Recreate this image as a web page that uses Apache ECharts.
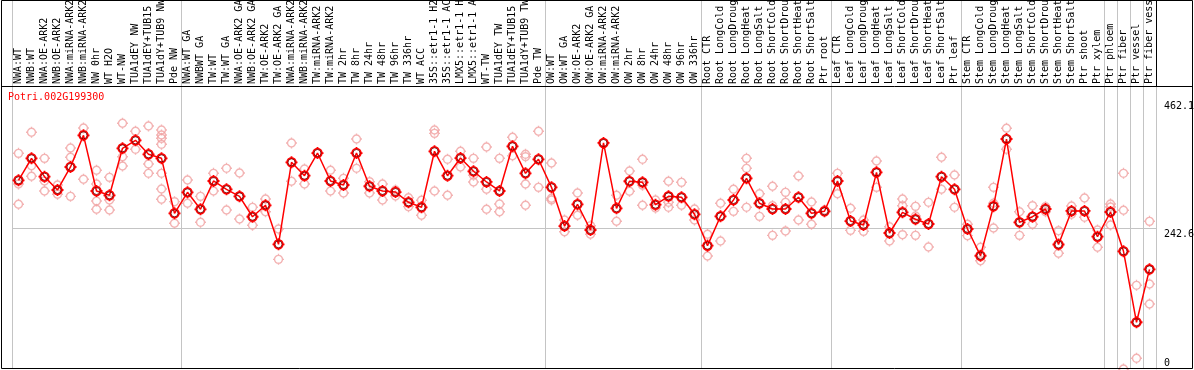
<!DOCTYPE html>
<html>
<head>
<meta charset="utf-8">
<script src="https://cdn.jsdelivr.net/npm/echarts@6/dist/echarts.min.js"></script>
<style>html,body{margin:0;padding:0;background:#fff;}#c{width:1194px;height:370px;}</style>
</head>
<body>
<div id="c"></div>
<script>
const categories = [
  "NWA:WT","NWB:WT","NWA:OE-ARK2","NWB:OE-ARK2","NWA:miRNA-ARK2","NWB:miRNA-ARK2","NW 0hr","WT H2O","WT-NW","TUA1dEY NW",
  "TUA1dEY+TUB15","TUA1dY+TUB9 NW","Pde NW","NWA:WT GA","NWBWT GA","TW:WT","TW:WT GA","NWA:OE-ARK2 GA","NWB:OE-ARK2 GA","TW:OE-ARK2",
  "TW:OE-ARK2 GA","NWA:miRNA-ARK2","NWB:miRNA-ARK2","TW:miRNA-ARK2","TW:miRNA-ARK2","TW 2hr","TW 8hr","TW 24hr","TW 48hr","TW 96hr",
  "TW 336hr","WT ACC","35S::etr1-1 H2","35S::etr1-1 AC","LMX5::etr1-1 H","LMX5::etr1-1 A","WT-TW","TUA1dEY TW","TUA1dEY+TUB15","TUA1dY+TUB9 TW",
  "Pde TW","OW:WT","OW:WT GA","OW:OE-ARK2","OW:OE-ARK2 GA","OW:miRNA-ARK2","OW:miRNA-ARK2","OW 2hr","OW 8hr","OW 24hr",
  "OW 48hr","OW 96hr","OW 336hr","Root CTR","Root LongCold","Root LongDroug","Root LongHeat","Root LongSalt","Root ShortCold","Root ShortDrou",
  "Root ShortHeat","Root ShortSalt","Ptr root","Leaf CTR","Leaf LongCold","Leaf LongDroug","Leaf LongHeat","Leaf LongSalt","Leaf ShortCold","Leaf ShortDrou",
  "Leaf ShortHeat","Leaf ShortSalt","Ptr leaf","Stem CTR","Stem LongCold","Stem LongDroug","Stem LongHeat","Stem LongSalt","Stem ShortCold","Stem ShortDrou",
  "Stem ShortHeat","Stem ShortSalt","Ptr shoot","Ptr xylem","Ptr phloem","Ptr fiber","Ptr vessel","Ptr fiber vess"
];

const means = [
  324.7, 362.5, 330.9, 308.0, 347.6, 402.1, 306.3, 298.9, 379.7, 393.5,
  369.4, 362.5, 267.9, 304.0, 274.8, 323.5, 309.2, 297.1, 262.0, 281.7,
  214.6, 355.6, 332.6, 371.6, 323.5, 316.6, 371.6, 314.4, 306.3, 304.5,
  286.8, 278.2, 374.6, 332.6, 363.0, 340.2, 321.8, 306.3, 383.2, 336.7,
  360.8, 312.6, 246.0, 283.4, 239.2, 388.9, 276.5, 323.0, 321.2, 282.7,
  297.1, 295.4, 266.2, 212.2, 262.7, 290.8, 328.1, 285.1, 275.3, 275.3,
  295.4, 267.9, 271.3, 323.5, 254.6, 247.8, 338.4, 234.0, 269.6, 257.6,
  249.5, 330.9, 309.2, 240.9, 194.9, 279.9, 395.7, 252.4, 262.0, 275.3,
  214.2, 271.9, 271.9, 227.6, 270.1, 202.5, 80.4, 171.5
];

const replicates = [
  [371.1, 318.3, 283.4], [407.3, 349.8, 331.6], [362.5, 323.5, 306.3], [316.6, 308.0, 300.6], [380.3, 364.3, 297.1],
  [414.7, 326.4], [341.9, 318.3, 289.1, 274.8], [329.8, 290.8, 273.6], [422.8, 365.3, 349.3], [409.0, 378.0],
  [418.1, 352.7, 336.7], [411.2, 402.6, 396.9, 386.6, 336.7, 309.7, 292.0], [287.9, 250.7], [325.2, 285.1], [297.1, 252.4],
  [336.7, 306.3], [345.3, 273.6], [337.2, 258.1], [278.2, 247.3], [292.5, 270.6],
  [240.9, 188.7], [388.9, 323.0], [344.1, 318.3], [371.6], [341.9, 306.3],
  [328.1, 302.8], [395.7, 345.3], [322.3, 302.8], [318.3, 290.8], [308.0, 297.7],
  [294.7, 279.3], [290.3, 264.5], [411.2, 405.5, 306.3], [360.8, 298.9], [374.6, 347.6],
  [362.5, 333.3, 321.8], [382.0, 309.2, 274.8], [362.5, 283.9, 270.6], [398.7, 367.0], [369.4, 365.3, 318.3, 281.7],
  [409.0, 312.6], [354.4, 293.7, 290.8], [256.4, 236.2], [302.8, 264.5], [246.6, 231.8],
  [388.9], [298.9, 254.2], [340.7, 305.8], [360.8, 316.1, 281.7], [290.8, 277.0],
  [323.0, 286.8, 278.2], [321.2, 281.7], [275.3, 256.4], [231.8, 194.4], [285.1, 220.2],
  [309.2, 271.3], [362.5, 345.3, 278.2], [301.6, 262.7], [314.4, 281.0, 230.0], [304.0, 286.8, 237.4],
  [332.1, 256.4], [287.3, 249.0], [273.6], [336.7, 301.6], [276.5, 238.6],
  [256.4, 236.9], [357.9, 312.6], [244.8, 220.2], [292.5, 281.0, 231.1], [279.9, 263.3, 230.0],
  [286.8, 209.9], [364.3, 309.2], [333.8, 278.2], [249.0, 229.4], [209.4, 186.3],
  [312.6, 285.1, 242.6], [414.2, 378.0], [270.6, 230.0], [281.0, 249.0], [279.3, 270.6],
  [238.0, 199.1], [280.5, 266.2], [294.2, 261.0], [239.2, 209.4], [283.9, 278.7, 247.8],
  [336.7, 273.1, 0], [144.0, 18.4], [254.1, 146.3, 111.8]
];

const yTickLabels = [0, 242.6, 462.1];
const yGridValues = [242.6];
const groupStarts = [0, 13, 41, 53, 63, 73, 84, 85, 86, 87];
const geneName = "Potri.002G199300";

const MONO = "DejaVu Sans Mono";
const gear = "path://M1.8,6A4.2,4.2 0 1,1 10.2,6A4.2,4.2 0 1,1 1.8,6ZM6,0.2L6,1.8M6,10.2L6,11.8M0.2,6L1.8,6M10.2,6L11.8,6";

const repData = [];
replicates.forEach((arr, i) => arr.forEach(v => repData.push([i, v])));

const chart = echarts.init(document.getElementById('c'), null, {renderer: 'canvas'});
chart.setOption({
  animation: false,
  backgroundColor: '#fff',
  title: {
    text: geneName, left: 8, top: 92, padding: 0,
    textStyle: {color: '#ff0000', fontSize: 10, fontFamily: MONO, fontWeight: 'normal'}
  },
  grid: {left: 12, right: 38, top: 0, bottom: 1, containLabel: false, outerBoundsMode: 'none'},
  xAxis: {
    type: 'category', data: categories, position: 'top', offset: -86,
    boundaryGap: true,
    axisLine: {show: false}, axisTick: {show: false},
    axisLabel: {interval: 0, rotate: 90, margin: 2, fontSize: 10, fontFamily: MONO, color: '#000'},
    splitLine: {show: true, interval: (idx) => groupStarts.indexOf(idx) >= 0, lineStyle: {color: '#c4c4c4', width: 1}}
  },
  yAxis: {
    type: 'value', position: 'right', min: 0, max: 634.9,
    axisLine: {show: true, lineStyle: {color: '#c4c4c4', width: 1}},
    axisTick: {show: false, customValues: yGridValues},
    axisLabel: {
      customValues: yTickLabels, margin: 8, fontSize: 10, fontFamily: MONO, color: '#000',
      lineHeight: 12, verticalAlign: 'middle',
      formatter: v => v === 0 ? '0\n' : '\n' + v
    },
    splitLine: {show: true, lineStyle: {color: '#c4c4c4', width: 1}}
  },
  series: [
    {
      type: 'scatter', data: repData, symbol: gear, symbolSize: 11, z: 2,
      itemStyle: {color: 'rgba(255,255,255,0)', borderColor: '#f0a0a0', borderWidth: 1.4}
    },
    {
      type: 'line', data: means, symbol: gear, symbolSize: 12, z: 3,
      lineStyle: {color: '#ff0000', width: 1.5},
      itemStyle: {color: 'rgba(255,255,255,0)', borderColor: '#ff0000', borderWidth: 1.8}
    },
    {
      type: 'scatter', data: means, symbol: 'circle', symbolSize: 7, z: 4,
      itemStyle: {color: 'rgba(255,255,255,0)', borderColor: '#700000', borderWidth: 1}
    }
  ],
  graphic: [
    {type: 'rect', z: 100, silent: true, shape: {x: 1.5, y: 0.5, width: 1191, height: 368},
     style: {fill: null, stroke: '#000', lineWidth: 1}},
    {type: 'line', z: 100, silent: true, shape: {x1: 1.5, y1: 86.5, x2: 1192.5, y2: 86.5},
     style: {stroke: '#000', lineWidth: 1}},
    {type: 'line', z: 100, silent: true, shape: {x1: 1156.5, y1: 0, x2: 1156.5, y2: 86.5},
     style: {stroke: '#000', lineWidth: 1}}
  ]
});
</script>
</body>
</html>
